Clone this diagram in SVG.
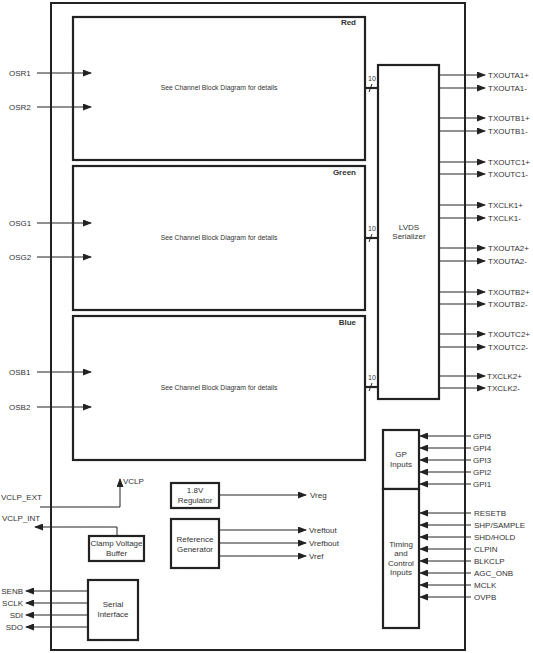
<svg xmlns="http://www.w3.org/2000/svg" width="533" height="653" viewBox="0 0 533 653">
<style>
text{font-family:"Liberation Sans",Arial,sans-serif;font-size:8px;fill:#333}
.c{text-anchor:middle}
.r{text-anchor:end}
.b{font-weight:bold;text-anchor:end}
.ch{text-anchor:middle;font-size:6.8px}
.box{fill:#fff;stroke:#222;stroke-width:2.2}
.ln{stroke:#222;stroke-width:1;fill:none}
.bus{stroke:#222;stroke-width:2.2;fill:none}
.ar{stroke:#222;stroke-width:1;fill:none;marker-end:url(#ah)}
</style>
<defs>
<marker id="ah" markerWidth="9" markerHeight="7" refX="8" refY="3.5" orient="auto" markerUnits="userSpaceOnUse">
<path d="M0,0 L9,3.5 L0,7 Z" fill="#222"/>
</marker>
<pattern id="grid" width="12" height="12" patternUnits="userSpaceOnUse">
<rect x="5.5" y="5.5" width="0.8" height="0.8" fill="#e4e4e4"/>
</pattern>
</defs>
<rect width="533" height="653" fill="#fff"/>
<rect width="533" height="653" fill="url(#grid)"/>

<g id="chip">
<rect x="51" y="3" width="414" height="647" fill="none" stroke="#222" stroke-width="2"/>
</g>

<g id="red">
<rect class="box" x="73" y="17" width="292" height="143"/>
<text class="b" x="356" y="25">Red</text>
<text class="ch" x="219" y="90">See Channel Block Diagram for details</text>
</g>
<g id="green">
<rect class="box" x="73" y="166" width="292" height="144"/>
<text class="b" x="356" y="175">Green</text>
<text class="ch" x="219" y="240">See Channel Block Diagram for details</text>
</g>
<g id="blue">
<rect class="box" x="73" y="316" width="292" height="144"/>
<text class="b" x="356" y="325">Blue</text>
<text class="ch" x="219" y="390">See Channel Block Diagram for details</text>
</g>
<g id="lvds">
<rect class="box" x="378" y="65" width="61" height="334"/>
<text class="c" x="409" y="230">LVDS</text>
<text class="c" x="409" y="239">Serializer</text>
</g>
<g id="gp">
<rect class="box" x="383" y="430" width="36" height="59"/>
<text class="c" x="401" y="457">GP</text>
<text class="c" x="401" y="467">Inputs</text>
</g>
<g id="timing">
<rect class="box" x="383" y="489" width="36" height="139"/>
<text class="c" x="401" y="547">Timing</text>
<text class="c" x="401" y="556">and</text>
<text class="c" x="401" y="566">Control</text>
<text class="c" x="401" y="575">Inputs</text>
</g>
<g id="clamp">
<rect class="box" x="89" y="536" width="55" height="25"/>
<text class="c" x="116.5" y="546">Clamp Voltage</text>
<text class="c" x="116.5" y="556">Buffer</text>
</g>
<g id="serial">
<rect class="box" x="88" y="580" width="50" height="60"/>
<text class="c" x="113" y="607">Serial</text>
<text class="c" x="113" y="617">Interface</text>
</g>
<g id="regulator">
<rect class="box" x="171" y="483" width="48" height="25"/>
<text class="c" x="195" y="493">1.8V</text>
<text class="c" x="195" y="503">Regulator</text>
</g>
<g id="refgen">
<rect class="box" x="171" y="519" width="48" height="49"/>
<text class="c" x="195" y="542">Reference</text>
<text class="c" x="195" y="552">Generator</text>
</g>

<g id="connectors">
<path class="ar" d="M37,73 H91"/>
<path class="ar" d="M37,107 H91"/>
<path class="ar" d="M37,223 H91"/>
<path class="ar" d="M37,257 H91"/>
<path class="ar" d="M37,372 H91"/>
<path class="ar" d="M37,407 H91"/>
<path class="bus" d="M365,88 H378"/>
<path class="bus" d="M365,238 H378"/>
<path class="bus" d="M365,387 H378"/>
<path class="ln" d="M369,92 L372,84"/>
<path class="ln" d="M369,242 L372,234"/>
<path class="ln" d="M369,391 L372,383"/>
<path class="ar" d="M439,75 H485"/>
<path class="ar" d="M439,88 H485"/>
<path class="ar" d="M439,118 H485"/>
<path class="ar" d="M439,131 H485"/>
<path class="ar" d="M439,162 H485"/>
<path class="ar" d="M439,174 H485"/>
<path class="ar" d="M439,205 H485"/>
<path class="ar" d="M439,218 H485"/>
<path class="ar" d="M439,248 H485"/>
<path class="ar" d="M439,261 H485"/>
<path class="ar" d="M439,292 H485"/>
<path class="ar" d="M439,304 H485"/>
<path class="ar" d="M439,334 H485"/>
<path class="ar" d="M439,347 H485"/>
<path class="ar" d="M439,376 H485"/>
<path class="ar" d="M439,388 H485"/>
<path class="ar" d="M471,436 H420"/>
<path class="ar" d="M471,448 H420"/>
<path class="ar" d="M471,460 H420"/>
<path class="ar" d="M471,472 H420"/>
<path class="ar" d="M471,484 H420"/>
<path class="ar" d="M471,513 H420"/>
<path class="ar" d="M471,525 H420"/>
<path class="ar" d="M471,537 H420"/>
<path class="ar" d="M471,549 H420"/>
<path class="ar" d="M471,561 H420"/>
<path class="ar" d="M471,573 H420"/>
<path class="ar" d="M471,585 H420"/>
<path class="ar" d="M471,597 H420"/>
<path class="ar" d="M40,507 H120 V479"/>
<path class="ar" d="M117,536 V527 H35"/>
<path class="ar" d="M88,591 H26"/>
<path class="ar" d="M88,603 H26"/>
<path class="ar" d="M88,615 H26"/>
<path class="ar" d="M88,627 H26"/>
<path class="ar" d="M219,495 H306"/>
<path class="ar" d="M219,530 H306"/>
<path class="ar" d="M219,543 H306"/>
<path class="ar" d="M219,556 H306"/>
</g>

<g id="labels">
<text x="9" y="76">OSR1</text>
<text x="9" y="110">OSR2</text>
<text x="9" y="226">OSG1</text>
<text x="9" y="260">OSG2</text>
<text x="9" y="375">OSB1</text>
<text x="9" y="410">OSB2</text>
<text x="368" y="81" style="font-size:7px">10</text>
<text x="368" y="231" style="font-size:7px">10</text>
<text x="368" y="380" style="font-size:7px">10</text>
<text x="488" y="78">TXOUTA1+</text>
<text x="488" y="91">TXOUTA1-</text>
<text x="488" y="121">TXOUTB1+</text>
<text x="488" y="134">TXOUTB1-</text>
<text x="488" y="165">TXOUTC1+</text>
<text x="488" y="177">TXOUTC1-</text>
<text x="488" y="208">TXCLK1+</text>
<text x="488" y="221">TXCLK1-</text>
<text x="488" y="251">TXOUTA2+</text>
<text x="488" y="264">TXOUTA2-</text>
<text x="488" y="295">TXOUTB2+</text>
<text x="488" y="307">TXOUTB2-</text>
<text x="488" y="337">TXOUTC2+</text>
<text x="488" y="350">TXOUTC2-</text>
<text x="487" y="379">TXCLK2+</text>
<text x="487" y="391">TXCLK2-</text>
<text x="473" y="439">GPI5</text>
<text x="473" y="451">GPI4</text>
<text x="473" y="463">GPI3</text>
<text x="473" y="475">GPI2</text>
<text x="473" y="487">GPI1</text>
<text x="474" y="516">RESETB</text>
<text x="474" y="528">SHP/SAMPLE</text>
<text x="474" y="540">SHD/HOLD</text>
<text x="474" y="552">CLPIN</text>
<text x="474" y="564">BLKCLP</text>
<text x="474" y="576">AGC_ONB</text>
<text x="474" y="588">MCLK</text>
<text x="474" y="600">OVPB</text>
<text x="123" y="484">VCLP</text>
<text x="1" y="500">VCLP_EXT</text>
<text x="2" y="521">VCLP_INT</text>
<text class="r" x="23" y="594">SENB</text>
<text class="r" x="23" y="606">SCLK</text>
<text class="r" x="23" y="618">SDI</text>
<text class="r" x="23" y="630">SDO</text>
<text x="310" y="498">Vreg</text>
<text x="309" y="533">Vreftout</text>
<text x="309" y="546">Vrefbout</text>
<text x="309" y="559">Vref</text>
</g>
</svg>
